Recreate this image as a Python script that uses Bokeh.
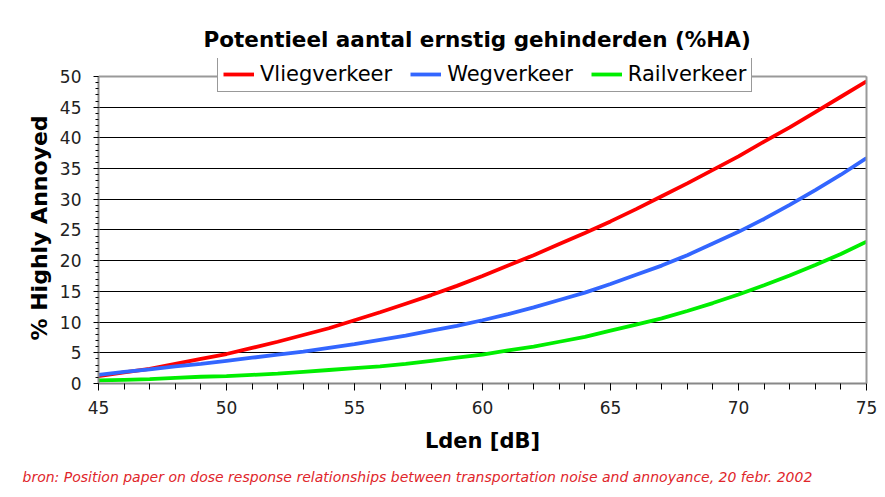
from bokeh.plotting import figure
from bokeh.models import (Range1d, FixedTicker, Legend, LegendItem, Title, LinearAxis, Span)
from bokeh.embed import file_html
from bokeh.resources import INLINE

# Lden [dB]
lden = [45, 46, 47, 48, 49, 50, 51, 52, 53, 54, 55, 56, 57, 58, 59, 60,
        61, 62, 63, 64, 65, 66, 67, 68, 69, 70, 71, 72, 73, 74, 75]

# % Highly Annoyed
vliegverkeer = [1.2, 1.8, 2.4, 3.2, 4.0, 4.8, 5.8, 6.8, 7.9, 9.0, 10.3, 11.6, 13.0, 14.4,
                15.9, 17.5, 19.2, 20.9, 22.7, 24.5, 26.4, 28.4, 30.5, 32.6, 34.8, 37.0,
                39.4, 41.7, 44.2, 46.7, 49.2]
wegverkeer = [1.4, 1.9, 2.3, 2.8, 3.2, 3.7, 4.2, 4.7, 5.2, 5.8, 6.4, 7.1, 7.8, 8.6,
              9.4, 10.3, 11.3, 12.4, 13.6, 14.8, 16.2, 17.7, 19.2, 20.9, 22.8, 24.7,
              26.8, 29.1, 31.5, 34.0, 36.7]
railverkeer = [0.5, 0.6, 0.7, 0.9, 1.1, 1.2, 1.4, 1.6, 1.9, 2.2, 2.5, 2.8, 3.2, 3.7,
               4.2, 4.7, 5.4, 6.0, 6.8, 7.6, 8.6, 9.6, 10.6, 11.8, 13.1, 14.5,
               16.0, 17.6, 19.3, 21.1, 23.1]

series_names = ["Vliegverkeer", "Wegverkeer", "Railverkeer"]
series_colors = ["#ff0000", "#3366ff", "#00ee00"]

y_ticks = [0, 5, 10, 15, 20, 25, 30, 35, 40, 45, 50]
x_ticks = [45, 50, 55, 60, 65, 70, 75]
y_min, y_max = 0, 50
x_min, x_max = 45, 75

FONT = "DejaVu Sans"

# frame extends a little above 50 so the legend can straddle the top line
p = figure(width=877, height=497, output_backend="svg", toolbar_location=None,
           x_range=Range1d(x_min, x_max), y_range=Range1d(y_min, 52.93),
           min_border_left=98, min_border_right=11, min_border_top=58, min_border_bottom=114)

p.background_fill_color = "white"
p.border_fill_color = "white"
p.outline_line_color = None

renderers = []
for ys, c in zip([vliegverkeer, wegverkeer, railverkeer], series_colors):
    r = p.line(lden, ys, line_color=c, line_width=3.8)
    renderers.append(r)

p.xgrid.visible = False
p.ygrid.grid_line_color = "black"
p.ygrid.grid_line_width = 1
p.ygrid.bounds = (y_min, y_max)

p.xaxis.ticker = FixedTicker(ticks=x_ticks, minor_ticks=list(range(45, 76)))
p.yaxis.ticker = FixedTicker(ticks=y_ticks, minor_ticks=list(range(0, 51)))
p.yaxis.bounds = (y_min, y_max)

for ax in (p.xaxis, p.yaxis):
    ax.axis_line_color = "#888888"
    ax.axis_line_width = 2
    ax.major_tick_line_color = "black"
    ax.minor_tick_line_color = "black"
    ax.major_tick_in = 0
    ax.minor_tick_in = 0
    ax.major_label_text_font = FONT
    ax.major_label_text_font_size = "17px"
    ax.major_label_text_color = "#222222"
    ax.axis_label_text_font = FONT
    ax.axis_label_text_font_size = "21px"
    ax.axis_label_text_font_style = "bold"
    ax.axis_label_text_color = "black"

p.xaxis.major_tick_out = 7
p.xaxis.minor_tick_out = 6
p.yaxis.major_tick_out = 5
p.yaxis.minor_tick_out = 3
p.xaxis.major_label_standoff = 10
p.yaxis.major_label_standoff = 12
p.xaxis.axis_label = "Lden [dB]"
p.xaxis.axis_label_standoff = 12

# y-axis title, placed along the 0..50 part of the axis
ytitle = Title(text="% Highly Annoyed", align="left", offset=43, standoff=10,
               text_font=FONT, text_font_size="22px", text_font_style="bold", text_color="black")
p.add_layout(ytitle, "left")

# right border of the plot area (0..50)
right_axis = LinearAxis(bounds=(y_min, y_max), ticker=FixedTicker(ticks=[]),
                        major_tick_line_color=None, minor_tick_line_color=None,
                        axis_line_color="#999999", axis_line_width=2)
p.add_layout(right_axis, "right")
# top border of the plot area at 50
p.add_layout(Span(location=y_max, dimension="width", line_color="#999999", line_width=2))

legend = Legend(items=[LegendItem(label=n, renderers=[r]) for n, r in zip(series_names, renderers)],
                orientation="horizontal", location=(119, 291),
                label_text_font=FONT, label_text_font_size="21px", label_text_color="black",
                glyph_width=31, glyph_height=20, label_height=20, label_standoff=6,
                spacing=18, padding=5, margin=0,
                border_line_color="#333333", border_line_width=1,
                background_fill_color="white", background_fill_alpha=1.0)
p.add_layout(legend, "center")

title = Title(text="Potentieel aantal ernstig gehinderden (%HA)", align="left", offset=105,
              text_font=FONT, text_font_size="21.5px", text_font_style="bold", text_color="black",
              standoff=14)
p.add_layout(title, "above")

source = Title(text="bron: Position paper on dose response relationships between transportation noise and annoyance, 20 febr. 2002",
               align="left", offset=-76, standoff=23,
               text_font=FONT, text_font_size="14px", text_font_style="italic", text_color="#e0262b")
p.add_layout(source, "below")

open("out.html", "w").write(file_html(p, INLINE))
